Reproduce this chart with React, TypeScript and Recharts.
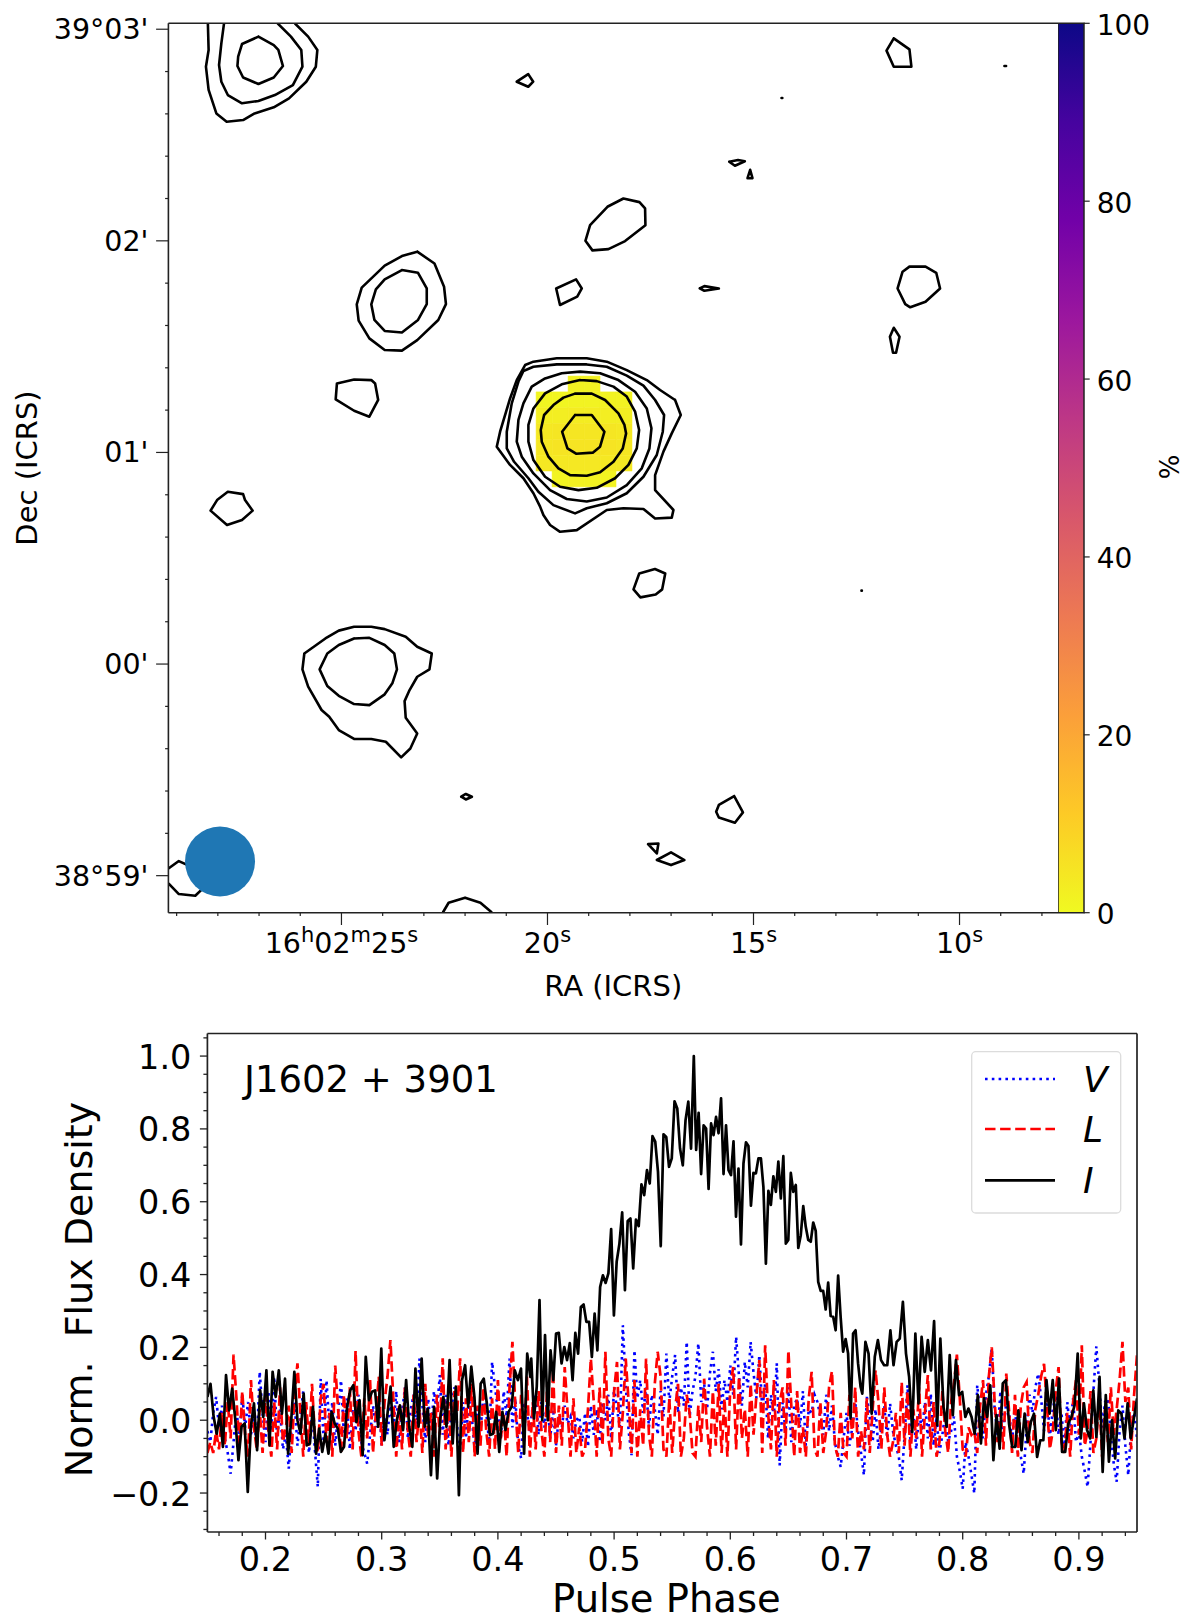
import { Bar, ComposedChart, Line, ReferenceArea, ReferenceDot, XAxis, YAxis } from "recharts";

type Pt = number[];

// contours, [RA seconds past 16h02m, Dec arcmin past 39d00']
const cornerOuter: Pt[] = [[28.242,3.028],[28.224,2.902],[28.289,2.823],[28.224,2.713],[28.036,2.602],[27.786,2.563],[27.387,2.571],[27.108,2.602],[26.643,2.631],[26.272,2.673],[25.854,2.752],[25.622,2.823],[25.585,2.902],[25.808,2.965],[26.133,3.028]];
const cornerMid: Pt[] = [[27.85,3.028],[27.915,2.933],[27.971,2.831],[27.915,2.752],[27.758,2.689],[27.414,2.65],[27.015,2.661],[26.616,2.689],[26.179,2.736],[25.947,2.823],[25.975,2.902],[26.226,2.965],[26.551,3.028]];
const cornerInner: Pt[] = [[27.015,2.965],[27.414,2.93],[27.507,2.87],[27.525,2.826],[27.387,2.772],[27.015,2.741],[26.643,2.772],[26.42,2.826],[26.532,2.902],[26.643,2.925]];
const speckTop: Pt[] = [[20.746,2.752],[20.467,2.788],[20.346,2.752],[20.467,2.728]];
const leftOuter: Pt[] = [[23.161,1.949],[23.533,1.928],[23.951,1.883],[24.508,1.779],[24.629,1.7],[24.583,1.623],[24.323,1.539],[23.951,1.484],[23.533,1.481],[23.161,1.531],[22.65,1.626],[22.464,1.701],[22.51,1.783],[22.743,1.893]];
const leftInner: Pt[] = [[23.533,1.862],[23.951,1.818],[24.165,1.771],[24.276,1.7],[24.2,1.626],[23.951,1.574],[23.533,1.567],[23.142,1.626],[22.93,1.701],[22.93,1.775],[23.142,1.849]];
const blobC: Pt[] = [[25.11,1.326],[24.692,1.345],[24.276,1.342],[24.183,1.326],[24.109,1.248],[24.323,1.169],[24.692,1.197],[25.14,1.251]];
const blobSmall: Pt[] = [[19.789,1.775],[19.306,1.818],[19.167,1.775],[19.278,1.736],[19.696,1.697]];
const blobD: Pt[] = [[18.157,2.2],[17.768,2.183],[17.631,2.153],[17.623,2.074],[18.116,1.999],[18.521,1.961],[18.909,1.955],[19.079,2.0],[18.966,2.074],[18.545,2.161]];
const topRight: Pt[] = [[11.596,2.957],[11.215,2.905],[11.168,2.823],[11.596,2.823],[11.772,2.899]];
const dotA: Pt[] = [[8.91,2.826],[8.87,2.826]];
const dotB: Pt[] = [[14.32,2.675],[14.3,2.675]];
const dotC: Pt[] = [[12.38,0.347],[12.37,0.347]];
const sliverA: Pt[] = [[15.589,2.374],[15.376,2.382],[15.21,2.376],[15.451,2.355]];
const sliverB: Pt[] = [[15.081,2.335],[15.025,2.296],[15.145,2.296]];
const sliverC: Pt[] = [[16.305,1.775],[16.193,1.786],[15.84,1.775],[16.193,1.764]];
const blobE: Pt[] = [[11.215,1.878],[10.825,1.878],[10.565,1.849],[10.472,1.775],[10.825,1.712],[11.196,1.686],[11.317,1.701],[11.503,1.775],[11.382,1.854]];
const sliverD: Pt[] = [[11.596,1.589],[11.456,1.547],[11.54,1.471],[11.614,1.471],[11.689,1.547]];
const blobF: Pt[] = [[27.758,0.814],[27.387,0.803],[27.34,0.775],[27.155,0.725],[27.414,0.681],[27.777,0.657],[28.177,0.725],[28.019,0.775]];
const lowerOuter: Pt[] = [[25.901,0.05],[25.39,0.121],[25.065,0.158],[24.694,0.176],[24.276,0.176],[23.951,0.165],[23.44,0.129],[23.161,0.082],[22.808,0.05],[22.864,-0.025],[23.161,-0.06],[23.347,-0.123],[23.468,-0.175],[23.44,-0.254],[23.161,-0.328],[23.328,-0.399],[23.551,-0.441],[23.923,-0.367],[24.276,-0.354],[24.694,-0.354],[25.065,-0.312],[25.297,-0.249],[25.483,-0.217],[25.808,-0.107],[25.947,-0.025]];
const lowerInner: Pt[] = [[24.694,0.121],[24.323,0.124],[23.951,0.09],[23.718,0.05],[23.653,-0.025],[23.765,-0.091],[23.951,-0.143],[24.323,-0.194],[24.694,-0.189],[25.065,-0.15],[25.344,-0.104],[25.53,-0.025],[25.344,0.05],[25.065,0.09]];
const speckLow: Pt[] = [[22.093,-0.627],[21.982,-0.614],[21.834,-0.627],[21.982,-0.64]];
const beamBlob: Pt[] = [[29.198,-0.966],[28.947,-0.931],[28.548,-0.966],[28.362,-1.06],[28.548,-1.095],[28.947,-1.087],[29.198,-1.037]];
const bottomArc: Pt[] = [[22.538,-1.174],[22.399,-1.128],[22.0,-1.104],[21.628,-1.128],[21.349,-1.174]];
const blobH: Pt[] = [[17.773,0.428],[17.392,0.449],[17.142,0.428],[17.216,0.353],[17.374,0.329],[17.745,0.315],[17.912,0.353]];
const blobI: Pt[] = [[15.469,-0.624],[15.256,-0.701],[15.451,-0.75],[15.841,-0.725],[15.906,-0.698],[15.841,-0.666]];
const triLow: Pt[] = [[17.559,-0.851],[17.308,-0.848],[17.346,-0.895]];
const diamondLow: Pt[] = [[17.346,-0.926],[17.002,-0.89],[16.677,-0.926],[17.002,-0.95]];

// the central source, inner ring first
const ring1: Pt[] = [[19.33,1.177],[18.925,1.177],[18.618,1.098],[18.723,1.027],[18.901,0.999],[19.306,0.994],[19.516,1.019],[19.645,1.098]];
const ring2: Pt[] = [[19.33,1.278],[18.925,1.278],[18.602,1.248],[18.278,1.185],[18.132,1.13],[18.092,1.09],[18.173,1.019],[18.399,0.956],[18.723,0.906],[19.047,0.89],[19.451,0.893],[19.734,0.925],[19.977,0.98],[20.139,1.051],[20.163,1.106],[20.082,1.177],[19.856,1.224],[19.613,1.259]];
const ring3: Pt[] = [[19.209,1.342],[18.804,1.337],[18.399,1.311],[18.076,1.264],[17.874,1.193],[17.776,1.106],[17.833,1.019],[18.035,0.941],[18.359,0.878],[18.804,0.833],[19.249,0.822],[19.694,0.838],[20.058,0.885],[20.341,0.964],[20.463,1.051],[20.463,1.13],[20.341,1.208],[20.058,1.279],[19.654,1.322]];
const ring4: Pt[] = [[19.209,1.382],[18.723,1.374],[18.278,1.342],[17.874,1.287],[17.59,1.208],[17.477,1.114],[17.526,1.019],[17.712,0.925],[18.076,0.846],[18.561,0.787],[19.047,0.768],[19.532,0.78],[19.937,0.822],[20.341,0.901],[20.624,0.98],[20.746,1.051],[20.705,1.154],[20.584,1.232],[20.382,1.311],[20.058,1.35],[19.654,1.374]];
const ring5: Pt[] = [[20.341,1.405],[19.775,1.416],[19.047,1.416],[18.561,1.405],[18.076,1.363],[17.671,1.316],[17.388,1.248],[17.17,1.177],[17.202,1.098],[17.348,0.988],[17.671,0.885],[18.076,0.807],[18.561,0.76],[19.047,0.736],[19.33,0.712],[19.856,0.751],[20.22,0.814],[20.463,0.878],[20.81,0.956],[20.988,1.019],[20.988,1.098],[20.867,1.232],[20.705,1.335],[20.584,1.385]];
const ring6: Pt[] = [[16.903,1.248],[16.765,1.177],[16.984,1.09],[17.186,1.004],[17.388,0.893],[17.388,0.822],[16.943,0.728],[16.984,0.692],[17.388,0.688],[17.671,0.733],[18.157,0.736],[18.561,0.728],[19.289,0.633],[19.694,0.625],[19.937,0.657],[20.099,0.704],[20.179,0.744],[20.341,0.807],[20.584,0.878],[20.908,0.941],[21.231,1.027],[21.15,1.098],[20.908,1.255],[20.746,1.342],[20.543,1.413],[20.341,1.429],[19.775,1.445],[19.047,1.445],[18.561,1.429],[18.076,1.389],[17.59,1.342],[17.267,1.295]];

const closedContours = [cornerInner, speckTop, leftOuter, leftInner, blobC, blobSmall, blobD, topRight, dotA, dotB, dotC, sliverA, sliverB, sliverC, blobE, sliverD, blobF, lowerOuter, lowerInner, speckLow, blobH, blobI, triLow, diamondLow, ring1, ring2, ring3, ring4, ring5, ring6];
const openContours = [cornerOuter, cornerMid, beamBlob, bottomArc];

// polarised percent map, rows top to bottom
const mapPercent = [
  [null, null, 2, 2, null, null],
  [1, 1, 1.5, 1.5, 1.5, 1.5],
  [2.5, 2.5, 3, 3, 2.5, 2.5],
  [4, 4.5, 4.5, 4.5, 4.5, 4],
  [4.5, 5, 5, 5, 5, 4.5],
  [4, 4, 4, 4, 4, 4],
  [null, 1.5, 2, 2, 1.5, null],
];
const mapRaStart = 20.276;
const mapRaPixel = 0.388;
const mapDecStart = 1.361;
const mapDecPixel = 0.0748;

const plasma = ["#f0f921", "#fdca26", "#fb9f3a", "#ed7953", "#d8576b", "#bd3786", "#9c179e", "#7201a8", "#46039f", "#0d0887"];

const raTicksBottom = [29, 28, 27, 26, 25, 24, 23, 22, 21, 20, 19, 18, 17, 16, 15, 14, 13, 12, 11, 10, 9, 8];
const raTicksTop = [28, 27, 26, 25, 24, 23, 22, 21, 20, 19, 18, 17, 16, 15, 14, 13, 12, 11, 10, 9, 8];
const decTicks = [-1, -0.8, -0.6, -0.4, -0.2, 0, 0.2, 0.4, 0.6, 0.8, 1, 1.2, 1.4, 1.6, 1.8, 2, 2.2, 2.4, 2.6, 2.8, 3];
const decLabels: Record<string, string> = { "3": "39°03'", "2": "02'", "1": "01'", "0": "00'", "-1": "38°59'" };
const colorbarTicks = [0, 20, 40, 60, 80, 100];

const phaseTicks = [0.16, 0.18, 0.2, 0.22, 0.24, 0.26, 0.28, 0.3, 0.32, 0.34, 0.36, 0.38, 0.4, 0.42, 0.44, 0.46, 0.48, 0.5, 0.52, 0.54, 0.56, 0.58, 0.6, 0.62, 0.64, 0.66, 0.68, 0.7, 0.72, 0.74, 0.76, 0.78, 0.8, 0.82, 0.84, 0.86, 0.88, 0.9, 0.92, 0.94];
const fluxTicks = [-0.3, -0.25, -0.2, -0.15, -0.1, -0.05, 0, 0.05, 0.1, 0.15, 0.2, 0.25, 0.3, 0.35, 0.4, 0.45, 0.5, 0.55, 0.6, 0.65, 0.7, 0.75, 0.8, 0.85, 0.9, 0.95, 1, 1.05];

// total intensity read in four stretches
const iStart = [0.064,0.1,0.01,-0.037,0.018,-0.073,0.124,0.027,0.087,0,-0.11,-0.018,-0.009,-0.197,-0.018,0.046,-0.082,0.082,0.009,0.137,-0.069,0.133,0.064,0.137,0.018,0.114,-0.092,0,0.133,0,-0.037,0.073,-0.069,-0.064,0.037,-0.092,-0.023,-0.087,-0.037,-0.092,0.023,-0.009,-0.023,-0.087,-0.073,0.037,0.082,0.096,-0.005,0.055,-0.096,0.174,0.055,0.078,0.082,-0.018,0.197,-0.055,0.018,0.092,-0.073,0,0.041,-0.027,0.11,-0.018,-0.073,0.142,-0.018,0.169,-0.018,0.032,-0.151,0.037,-0.16,0.005,0.064,-0.018,0.165,-0.064,0.092,-0.206,0.11,0.151,0.037,0.147,0.064,-0.092,0.1,0.114,0.046,-0.041,-0.037,0.023,-0.087,0.023,-0.027,0.023,0.037,0.137,0.11,0.142,-0.092,0.183,0.119];
const iRise = [0.169,0.005,0.092,0.33,0,0.234,0,0.192,0.11,0.238,0.24,0.156,0.201,0.165,0.212,0.11,0.24,0.183,0.311,0.318,0.27,0.27,0.174,0.293,0.192,0.366,0.398,0.377,0.403,0.525,0.288,0.435,0.485,0.571,0.357,0.547,0.554,0.417,0.551,0.533,0.648,0.618,0.687,0.65,0.78,0.765,0.682,0.478,0.785,0.778,0.696,0.719,0.876,0.856,0.746,0.7,0.824,0.875,0.746,1];
const iFall = [1,0.742,0.844,0.676,0.81,0.801,0.635,0.815,0.783,0.833,0.788,0.884,0.676,0.81,0.687,0.673,0.766,0.559,0.691,0.483,0.705,0.763,0.753,0.589,0.679,0.678,0.719,0.719,0.641,0.43,0.63,0.591,0.67,0.627,0.71,0.609,0.725,0.485,0.495,0.679,0.627,0.646,0.473,0.508,0.588,0.531,0.495,0.49,0.543,0.52,0.38,0.355,0.355,0.304,0.378,0.286,0.284,0.247,0.397,0.284,0.188,0.223,0.183,0.005,0.238,0.247,0.156,0.092];
const iEnd = [0.073,0.215,0.183,0.018,0.174,0.22,0.165,0.151,0.151,0.247,0.151,0.215,0.224,0.325,0.183,0.119,-0.032,0.238,0.046,0.229,0.133,0.22,0.137,0.272,-0.014,0.224,0.037,-0.018,0.179,0.014,0.165,0.069,0.078,0.009,0.032,0.009,-0.037,0.069,-0.064,0.06,0.009,0.096,-0.11,0.014,-0.078,0.101,0.11,-0.009,-0.073,-0.073,0.027,-0.082,0.018,-0.06,-0.005,0.018,-0.101,-0.055,-0.055,0.11,0.018,0.11,-0.027,0.114,-0.087,-0.087,-0.009,0.009,0.041,0.183,-0.05,0.046,-0.027,-0.05,0.082,-0.046,0.119,-0.142,0.069,-0.114,0,-0.105,0.027,0.018,-0.05,0.046,-0.05,0.005,0.06];

// linear polarisation, one value per 0.0025 of phase from 0.15
const stokesL = [
  -0.09,-0.06,-0.09,-0.03,-0.08,0.02,-0.07,0.05,-0.05,0.18,
  0.06,-0.08,0.08,-0.04,-0.1,0.11,-0.02,-0.08,0.03,-0.09,
  0.07,-0.03,-0.1,0.05,-0.08,0.09,-0.06,-0.02,0.04,-0.09,
  0.07,0.156,0.02,-0.1,0.05,-0.07,0.1,-0.04,-0.09,0.06,
  0.1,-0.06,0.02,-0.1,0.15,0.03,-0.09,0.07,-0.05,0.09,
  -0.08,0.19,-0.03,-0.1,0.06,-0.05,0.11,-0.09,0.02,0.12,
  -0.07,0.05,0.12,0.22,0.06,-0.1,0.04,-0.08,0.09,-0.03,
  -0.1,0.07,-0.06,0.03,-0.09,0.1,-0.05,0.02,-0.1,0.07,
  -0.04,0.17,-0.08,0.05,-0.1,0.08,0.02,0.17,-0.09,0.06,
  -0.06,0.1,-0.1,0.04,-0.07,0.09,-0.03,-0.1,0.06,-0.08,
  0.11,-0.05,0.02,-0.1,0.09,0.215,0.04,-0.09,0.07,-0.06,
  0.12,-0.1,0.05,-0.08,0.08,-0.03,-0.1,0.1,-0.06,0.137,
  -0.09,0.04,-0.07,0.146,0.02,-0.1,0.06,-0.09,-0.02,-0.1,
  -0.08,0.03,0.169,0.05,-0.1,0.09,-0.07,0.188,-0.05,-0.1,
  0.08,0.16,-0.08,0.02,0.169,0.05,-0.09,0.11,-0.1,0.03,
  -0.07,0.169,-0.04,-0.1,0.1,0.188,0.12,-0.08,-0.1,0.06,
  -0.09,0.03,0.1,-0.1,-0.05,0.07,0.02,-0.09,-0.1,0.04,
  -0.06,0.114,-0.02,-0.1,0.08,-0.07,0.1,-0.09,0.06,-0.1,
  0.09,0.146,-0.08,0.12,-0.05,0.03,-0.1,0.1,-0.04,0.07,
  0.165,-0.09,0.206,0.02,-0.08,0.11,-0.1,0.05,0.09,-0.07,
  0.192,0.04,-0.1,0.08,-0.09,-0.02,-0.1,0.06,0.133,-0.08,
  -0.1,0.05,-0.09,-0.03,0.09,0.135,-0.07,-0.1,0.02,-0.09,
  -0.1,0.07,-0.05,0.09,-0.1,-0.03,-0.08,0.06,-0.09,0.03,
  0.137,0.05,-0.08,0.09,-0.04,-0.1,-0.06,0.02,-0.09,0.105,
  -0.07,0.08,-0.1,0.03,-0.05,0.09,-0.1,0.02,0.124,-0.08,
  0.05,-0.1,-0.06,0.08,-0.03,-0.09,0.05,0.1,0.18,0.06,
  -0.08,-0.1,-0.02,-0.04,-0.03,-0.09,0.04,0.11,-0.07,0.12,
  0.2,0.05,-0.06,0.03,-0.08,0.128,0.02,-0.09,0.07,-0.1,
  0.04,0.09,0.105,-0.06,-0.09,0.03,0.07,0.12,0.155,0.04,
  -0.08,-0.03,0.08,0.146,-0.06,-0.09,0.02,-0.1,0.05,0.11,
  -0.04,0.206,-0.07,-0.03,0.08,-0.09,-0.05,0.06,-0.1,0.03,
  -0.06,0.09,-0.04,0.03,0.11,0.215,0.05,0.09,-0.08,0.07,
  0.18,0.13,
];

const stokesV = [
  -0.03,-0.06,0.02,0.064,-0.02,0.04,-0.05,-0.09,-0.147,-0.06,
  0.03,-0.05,0.07,-0.02,0.05,-0.04,0.01,-0.07,0.133,0.02,
  -0.06,0.08,-0.03,0.119,-0.05,0.03,-0.08,-0.04,-0.133,-0.02,
  0.05,-0.07,0.01,0.08,-0.03,-0.09,0.03,-0.08,-0.183,0.114,
  -0.06,0.11,-0.02,0.05,-0.07,0.02,0.11,-0.04,0.06,-0.08,
  0.03,-0.03,0.07,-0.06,-0.09,-0.119,-0.04,0.04,-0.02,0.06,
  -0.07,0.01,-0.04,0.05,-0.03,0.08,-0.06,0.02,0.09,-0.05,
  0.03,0.07,-0.02,0.169,0.04,-0.06,0.06,-0.03,0.08,0.02,
  0.124,-0.04,0.07,-0.07,0.03,0.09,-0.02,-0.08,0.05,-0.05,
  0.06,0.01,-0.08,0.04,-0.03,0.07,0.02,-0.06,0.16,0.09,
  0.03,-0.05,0.08,0.01,0.169,-0.02,0.06,-0.07,-0.105,0.05,
  0.02,-0.03,0.04,0.07,-0.04,0.05,-0.02,0.06,-0.05,0.03,
  -0.07,0.01,-0.02,0.04,-0.01,0.01,-0.05,0,0.01,-0.06,
  0.02,-0.073,0.04,-0.04,0.03,-0.06,0.05,0,0.07,-0.05,
  0.09,0.03,-0.02,0.261,0.1,-0.03,-0.096,0.192,0.06,0.11,
  0.02,0.09,-0.02,0.07,0.03,-0.04,0.08,0.01,0.183,0.05,
  0.12,0.179,0.02,0.09,0.04,0.215,0.01,0.08,0.12,0.211,
  0.05,0.1,0.03,0.13,0.188,0.08,0.14,0.03,0.11,0.05,
  0.15,0.07,0.229,0.12,0.04,0.16,0.09,0.215,0.13,0.06,
  0.179,0.03,0.1,-0.05,0.07,0.01,0.156,-0.124,0.05,-0.03,
  0.09,-0.06,0.04,0.06,-0.02,0.08,-0.07,0.03,0.02,0.07,
  0.05,0.01,-0.04,0.07,-0.03,0.04,-0.06,-0.1,-0.128,-0.05,
  0.02,-0.07,-0.02,0.05,-0.03,-0.09,-0.151,0.064,0.01,-0.06,
  0.03,-0.08,-0.02,0.04,-0.05,0.046,-0.03,-0.07,-0.1,-0.165,
  -0.04,0.096,-0.06,0.03,-0.08,0.02,-0.03,0.05,-0.05,0.073,
  -0.07,0.01,-0.09,-0.04,0.02,-0.06,-0.03,0.01,-0.1,-0.14,
  -0.188,-0.06,-0.1,-0.15,-0.201,0.096,0.02,-0.05,0.07,0.12,
  0.197,0.03,-0.04,0.08,-0.03,0.05,0.02,-0.06,0.04,-0.09,
  -0.1,-0.147,-0.02,0.07,0.02,0.09,0.128,0.06,-0.03,0.08,
  -0.05,0.03,0.07,-0.04,0.02,-0.07,0.05,-0.03,0.06,-0.06,
  -0.03,-0.1,-0.14,-0.183,-0.06,0.08,0.203,0.1,-0.02,0.05,
  0.06,-0.04,-0.12,-0.169,-0.03,0.04,-0.07,-0.151,-0.02,0.03,
  -0.05,-0.08,
];

const FONT = "DejaVu Sans";
const AXIS_COLOR = "#222";

const toContour = (pts: Pt[], closed: boolean) =>
  (closed ? [...pts, pts[0]] : pts).map(([ra, dec]) => ({ ra, dec }));

const stretch = (values: number[], from: number, to: number) =>
  values.map((flux, i) => ({ phase: from + (i * (to - from)) / (values.length - 1), flux }));

const perBin = (values: number[]) => values.map((flux, i) => ({ phase: 0.15 + i * 0.0025, flux }));

const iRows = [
  ...stretch(iStart, 0.15, 0.4279),
  ...stretch(iRise, 0.4287, 0.5686),
  ...stretch(iFall.slice(1), 0.5706, 0.7121),
  ...stretch(iEnd, 0.7136, 0.95),
];
const lRows = perBin(stokesL);
const vRows = perBin(stokesV);

function percentColor(p: number) {
  const t = (p / 100) * (plasma.length - 1);
  const i = Math.min(Math.floor(t), plasma.length - 2);
  const c = (s: string, k: number) => parseInt(s.slice(1 + k * 2, 3 + k * 2), 16);
  const mix = [0, 1, 2].map((k) => Math.round(c(plasma[i], k) + (c(plasma[i + 1], k) - c(plasma[i], k)) * (t - i)));
  return `rgb(${mix.join(",")})`;
}

function RaTick({ x, y, payload }: any) {
  const v = payload.value;
  const major = v % 5 === 0;
  return (
    <g>
      <line x1={x} x2={x} y1={y} y2={y + (major ? 12.3 : 3.3)} stroke={AXIS_COLOR} strokeWidth={1.2} />
      {major && (
        <text x={x} y={y + 40} textAnchor="middle" fontFamily={FONT} fontSize={28.5} fill="#000">
          {v === 25 && (
            <>
              16<tspan dy={-11} fontSize={21}>h</tspan>
              <tspan dy={11}>02</tspan>
              <tspan dy={-11} fontSize={21}>m</tspan>
              <tspan dy={11}>25</tspan>
            </>
          )}
          {v !== 25 && v}
          <tspan dy={-11} fontSize={21}>s</tspan>
        </text>
      )}
    </g>
  );
}

function RaTopTick({ x, y, payload }: any) {
  const major = payload.value % 5 === 0;
  return <line x1={x} x2={x} y1={y} y2={y - (major ? 12.3 : 3.3)} stroke={AXIS_COLOR} strokeWidth={1.2} />;
}

function DecTick({ x, y, payload }: any) {
  const label = decLabels[String(payload.value)];
  return (
    <g>
      <line x1={x} x2={x - (label ? 12.3 : 3.3)} y1={y} y2={y} stroke={AXIS_COLOR} strokeWidth={1.2} />
      {label && (
        <text x={x - 20} y={y + 10} textAnchor="end" fontFamily={FONT} fontSize={28.5} fill="#000">
          {label}
        </text>
      )}
    </g>
  );
}

function PhaseTick({ x, y, payload }: any) {
  const v = payload.value;
  const major = Math.round(v * 100) % 10 === 0;
  return (
    <g>
      <line x1={x} x2={x} y1={y} y2={y + (major ? 7.5 : 4)} stroke={AXIS_COLOR} strokeWidth={1.3} />
      {major && (
        <text x={x} y={y + 39} textAnchor="middle" fontFamily={FONT} fontSize={33.5} fill="#000">
          {v.toFixed(1)}
        </text>
      )}
    </g>
  );
}

function FluxTick({ x, y, payload }: any) {
  const v = payload.value;
  const major = Math.round(v * 100) % 20 === 0 && v >= -0.2 && v <= 1;
  return (
    <g>
      <line x1={x} x2={x - (major ? 7.5 : 4)} y1={y} y2={y} stroke={AXIS_COLOR} strokeWidth={1.3} />
      {major && (
        <text x={x - 16} y={y + 12.5} textAnchor="end" fontFamily={FONT} fontSize={33.5} fill="#000">
          {v < 0 ? `\u2212${Math.abs(v).toFixed(1)}` : v.toFixed(1)}
        </text>
      )}
    </g>
  );
}

function ColorbarTick({ x, y, payload }: any) {
  return (
    <g>
      <line x1={x} x2={x + 6} y1={y} y2={y} stroke={AXIS_COLOR} strokeWidth={1.2} />
      <text x={x + 13} y={y + 11.5} fontFamily={FONT} fontSize={28} fill="#000">
        {payload.value}
      </text>
    </g>
  );
}

function MapPanel() {
  return (
    <ComposedChart width={1058} height={1020} margin={{ top: 0, right: 0, bottom: 0, left: 0 }}>
      <XAxis xAxisId="ra" dataKey="ra" type="number" reversed domain={[7.61, 29.2]} ticks={raTicksBottom} interval={0} height={107.3}
        allowDataOverflow axisLine={{ stroke: AXIS_COLOR, strokeWidth: 1.6 }} tickLine={false} tickSize={0} tickMargin={0} tick={RaTick}
        label={{ value: "RA (ICRS)", position: "insideBottom", offset: 24, style: { fontFamily: FONT, fontSize: 29, fill: "#000" } }} />
      <XAxis xAxisId="raTop" orientation="top" type="number" reversed domain={[7.1, 28.7]} ticks={raTicksTop} interval={0} height={23.3}
        axisLine={{ stroke: AXIS_COLOR, strokeWidth: 1.6 }} tickLine={false} tickSize={0} tickMargin={0} tick={RaTopTick} />
      <YAxis yAxisId="dec" type="number" domain={[-1.175, 3.028]} ticks={decTicks} interval={0} width={168.4} allowDataOverflow
        axisLine={{ stroke: AXIS_COLOR, strokeWidth: 1.6 }} tickLine={false} tickSize={0} tickMargin={0} tick={DecTick}
        label={{ value: "Dec (ICRS)", angle: -90, position: "insideLeft", offset: 27, style: { fontFamily: FONT, fontSize: 29, fill: "#000", textAnchor: "middle" } }} />
      {mapPercent.flatMap((row, r) =>
        row.map((p, c) =>
          p === null ? null : (
            <ReferenceArea key={`${r}-${c}`} xAxisId="ra" yAxisId="dec"
              x1={mapRaStart - c * mapRaPixel} x2={mapRaStart - (c + 1) * mapRaPixel}
              y1={mapDecStart - r * mapDecPixel} y2={mapDecStart - (r + 1) * mapDecPixel}
              fill={percentColor(p)} fillOpacity={1} stroke={percentColor(p)} strokeWidth={0.5} />
          )
        )
      )}
      {closedContours.map((pts, i) => (
        <Line key={`c${i}`} xAxisId="ra" yAxisId="dec" data={toContour(pts, true)} dataKey="dec" type="linear" stroke="#000" strokeWidth={2.6}
          strokeLinejoin="round" strokeLinecap="round" dot={false} activeDot={false} legendType="none" isAnimationActive={false} />
      ))}
      {openContours.map((pts, i) => (
        <Line key={`o${i}`} xAxisId="ra" yAxisId="dec" data={toContour(pts, false)} dataKey="dec" type="linear" stroke="#000" strokeWidth={2.6}
          strokeLinejoin="round" dot={false} activeDot={false} legendType="none" isAnimationActive={false} />
      ))}
      <ReferenceDot xAxisId="ra" yAxisId="dec" x={27.947} y={-0.933} r={35} fill="#1f77b4" stroke="none" />
    </ComposedChart>
  );
}

function Colorbar() {
  return (
    <ComposedChart width={142} height={1000} data={[{ name: "%", full: 100 }]} barCategoryGap={0} margin={{ top: 23.3, right: 0, bottom: 87.3, left: 0 }}>
      <defs>
        <linearGradient id="plasmaBar" x1="0" y1="1" x2="0" y2="0">
          {plasma.map((c, i) => (
            <stop key={c} offset={i / (plasma.length - 1)} stopColor={c} />
          ))}
        </linearGradient>
      </defs>
      <XAxis dataKey="name" hide />
      <YAxis orientation="right" type="number" domain={[0, 100]} ticks={colorbarTicks} interval={0} width={116.3} axisLine={false} tickLine={false} tickSize={0} tickMargin={0} tick={ColorbarTick} />
      <Bar dataKey="full" fill="url(#plasmaBar)" stroke={AXIS_COLOR} strokeWidth={1.5} isAnimationActive={false} />
    </ComposedChart>
  );
}

function ProfilePanel() {
  return (
    <ComposedChart width={1200} height={615} margin={{ top: 0, right: 0, bottom: 0, left: 0 }}>
      <XAxis dataKey="phase" type="number" domain={[0.15, 0.95]} ticks={phaseTicks} interval={0} height={83} allowDataOverflow
        axisLine={{ stroke: AXIS_COLOR, strokeWidth: 1.7 }} tickLine={false} tickSize={0} tickMargin={0} tick={PhaseTick}
        label={{ value: "Pulse Phase", position: { x: 459, y: 80 }, style: { fontFamily: FONT, fontSize: 38.5, fill: "#000", textAnchor: "middle" } }} />
      <XAxis xAxisId="frameTop" orientation="top" type="number" domain={[0.15, 0.95]} height={33.5} tick={false} tickLine={false} axisLine={{ stroke: AXIS_COLOR, strokeWidth: 1.7 }} />
      <YAxis type="number" domain={[-0.307, 1.062]} ticks={fluxTicks} interval={0} width={207.4} allowDataOverflow
        axisLine={{ stroke: AXIS_COLOR, strokeWidth: 1.7 }} tickLine={false} tickSize={0} tickMargin={0} tick={FluxTick}
        label={{ value: "Norm.\u00a0\u00a0Flux Density", angle: -90, position: { x: 92, y: 256 }, style: { fontFamily: FONT, fontSize: 38, fill: "#000", textAnchor: "middle" } }} />
      <YAxis yAxisId="frameRight" orientation="right" type="number" domain={[-0.307, 1.062]} width={63} tick={false} tickLine={false} axisLine={{ stroke: AXIS_COLOR, strokeWidth: 1.7 }} />
      <Line data={vRows} dataKey="flux" name="V" type="linear" stroke="#0000ff" strokeWidth={2.6} strokeDasharray="2.6 4.2" dot={false} activeDot={false} isAnimationActive={false} />
      <Line data={lRows} dataKey="flux" name="L" type="linear" stroke="#ff0000" strokeWidth={2.7} strokeDasharray="10.5 4.6" dot={false} activeDot={false} isAnimationActive={false} />
      <Line data={iRows} dataKey="flux" name="I" type="linear" stroke="#000" strokeWidth={2.7} strokeLinejoin="round" dot={false} activeDot={false} isAnimationActive={false} />
    </ComposedChart>
  );
}

// text and legend that sit over the panels
function Overlay() {
  const rows = [
    { name: "V", y: 1079, stroke: "#0000ff", dash: "2.6 4.2", w: 2.6 },
    { name: "L", y: 1129, stroke: "#ff0000", dash: "10.5 4.6", w: 2.7 },
    { name: "I", y: 1180.3, stroke: "#000", dash: undefined, w: 2.7 },
  ];
  return (
    <svg width={1200} height={1615} style={{ position: "absolute", left: 0, top: 0, pointerEvents: "none" }}>
      <text x={0} y={0} transform="translate(1170 467) rotate(-90)" textAnchor="middle" dominantBaseline="central" fontFamily={FONT} fontSize={26} fill="#000">%</text>
      <text x={244} y={1092} fontFamily={FONT} fontSize={37} fill="#000">J1602 + 3901</text>
      <rect x={971.7} y={1051.7} width={149} height={161.3} rx={4} fill="#fff" fillOpacity={0.8} stroke="#dcdcdc" strokeWidth={1.3} />
      {rows.map((r) => (
        <g key={r.name}>
          <line x1={985} x2={1055} y1={r.y} y2={r.y} stroke={r.stroke} strokeWidth={r.w} strokeDasharray={r.dash} />
          <text x={1083} y={r.y + 13} fontFamily={FONT} fontStyle="italic" fontSize={36} fill="#000">{r.name}</text>
        </g>
      ))}
    </svg>
  );
}

export default function App() {
  return (
    <div style={{ position: "absolute", left: 0, top: 0, width: 1200, height: 1615, overflow: "hidden", background: "#fff", fontFamily: FONT }}>
      <div style={{ position: "absolute", left: 0, top: 0 }}><MapPanel /></div>
      <div style={{ position: "absolute", left: 1058, top: 0 }}><Colorbar /></div>
      <div style={{ position: "absolute", left: 0, top: 1000 }}><ProfilePanel /></div>
      <Overlay />
    </div>
  );
}
